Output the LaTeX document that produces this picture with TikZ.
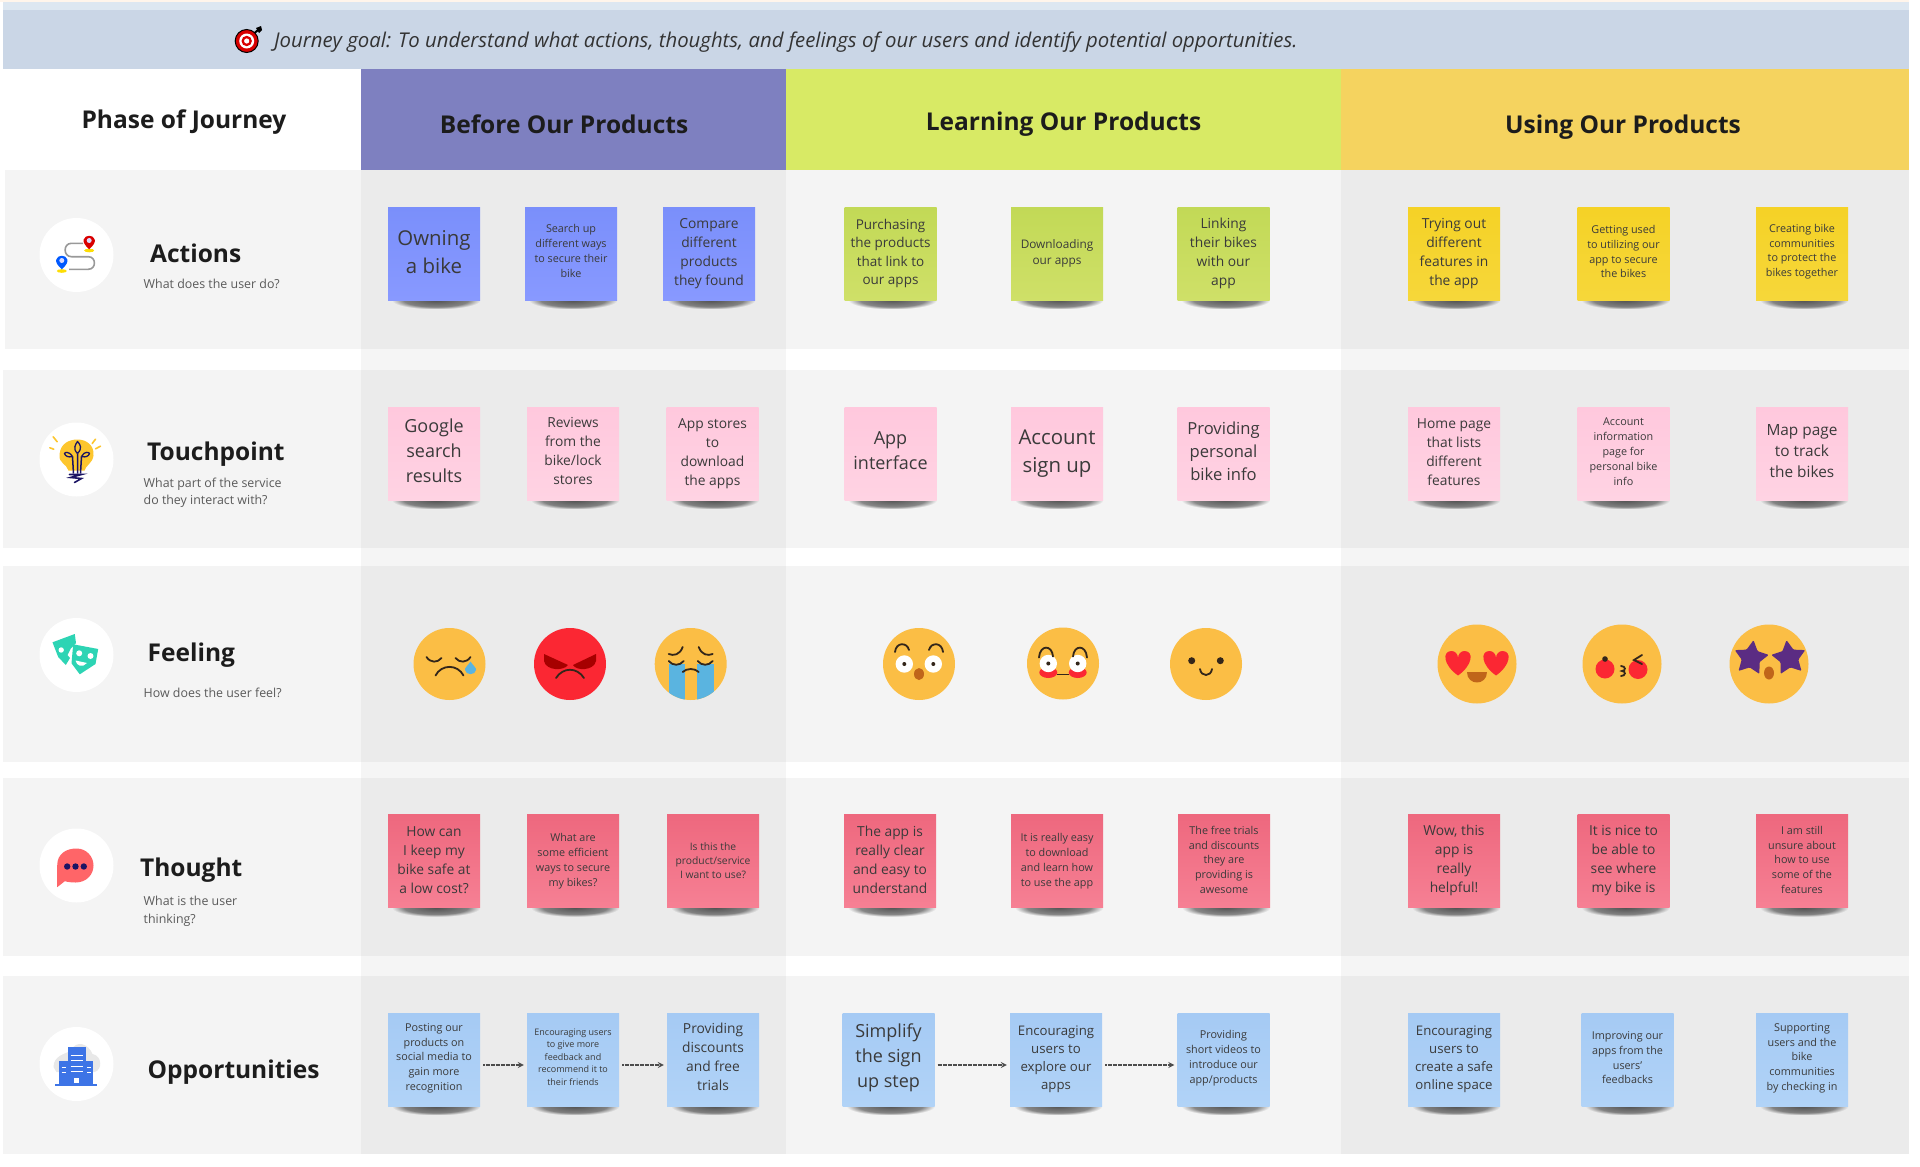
\documentclass[tikz,border=0pt]{standalone}
\usepackage{fontspec}
\setmainfont{Open Sans}
\usetikzlibrary{shapes.geometric, fadings}

\definecolor{goalband}{HTML}{CAD6E6}
\definecolor{goaltop}{HTML}{DDE7F1}
\definecolor{rowlight}{HTML}{F4F4F4}
\definecolor{rowdark}{HTML}{EBEBEB}
\definecolor{gapgray}{HTML}{F5F5F5}
\definecolor{headbefore}{HTML}{7E80C0}
\definecolor{headlearn}{HTML}{D8EA65}
\definecolor{headuse}{HTML}{F5D35F}
\definecolor{inktext}{HTML}{1C1C1C}
\definecolor{subtext}{HTML}{5A5A5A}
\definecolor{notetext}{HTML}{3A3A3A}
\definecolor{facey}{HTML}{FBBE45}
\definecolor{facered}{HTML}{FB2733}
\definecolor{facedark}{HTML}{33261A}
\definecolor{navy}{HTML}{1B1464}
\definecolor{tearblue}{HTML}{5AB4E0}
\definecolor{mouthbrown}{HTML}{C0651A}
\definecolor{starpurple}{HTML}{5B2C83}
\definecolor{maskteal}{HTML}{2DD4B4}
\definecolor{towerblue}{HTML}{3D74E6}
\definecolor{bulbyellow}{HTML}{FDC62E}
\definecolor{chatred}{HTML}{FF6568}

\pgfdeclareradialshading{noteblurshade}{\pgfpointorigin}{color(0bp)=(pgftransparent!35); color(18bp)=(pgftransparent!55); color(25bp)=(pgftransparent!100); color(50bp)=(pgftransparent!100)}
\pgfdeclarefading{noteblur}{\pgfuseshading{noteblurshade}}

\tikzstyle{plate} = [circle, fill=white, minimum size=74pt, inner sep=0pt]
\tikzstyle{head} = [font=\fontsize{24.5}{30}\selectfont\bfseries, text=inktext]
\tikzstyle{rowname} = [anchor=west, inner sep=0pt, font=\fontsize{24.5}{30}\selectfont\bfseries, text=inktext]
\tikzstyle{rowsub} = [anchor=west, inner sep=0pt, align=left, font=\fontsize{12.4}{17}\selectfont, text=subtext]
\tikzstyle{noteshade} = [black, path fading=noteblur]
\tikzstyle{note} = [inner sep=0pt, minimum width=92pt, minimum height=93pt, align=center, text=notetext,
  append after command={\pgfextra{\begin{scope}
    \clip ([xshift=-6pt]\tikzlastnode.south west) rectangle ([xshift=6pt,yshift=-14pt]\tikzlastnode.south east);
    \fill [noteshade] ([xshift=-42pt,yshift=9pt]\tikzlastnode.south) rectangle ([xshift=46pt,yshift=-9pt]\tikzlastnode.south);
    \end{scope}}}]
\tikzstyle{actbefore} = [note, top color={rgb,255:red,122;green,143;blue,251}, bottom color={rgb,255:red,136;green,153;blue,255}]
\tikzstyle{actlearn} = [note, top color={rgb,255:red,194;green,217;blue,86}, bottom color={rgb,255:red,207;green,224;blue,104}]
\tikzstyle{actuse} = [note, top color={rgb,255:red,245;green,210;blue,38}, bottom color={rgb,255:red,246;green,215;blue,58}]
\tikzstyle{touch} = [note, top color={rgb,255:red,255;green,200;blue,221}, bottom color={rgb,255:red,255;green,211;blue,227}]
\tikzstyle{thought} = [note, top color={rgb,255:red,238;green,104;blue,126}, bottom color={rgb,255:red,246;green,128;blue,148}]
\tikzstyle{opp} = [note, top color={rgb,255:red,165;green,202;blue,244}, bottom color={rgb,255:red,177;green,211;blue,247}]
\tikzstyle{fsa} = [font=\fontsize{9}{12.4}\selectfont]
\tikzstyle{fsb} = [font=\fontsize{10.8}{14.8}\selectfont]
\tikzstyle{fsc} = [font=\fontsize{11.8}{16}\selectfont]
\tikzstyle{fsd} = [font=\fontsize{13.8}{19}\selectfont]
\tikzstyle{fse} = [font=\fontsize{16.6}{23}\selectfont]
\tikzstyle{fsf} = [font=\fontsize{18}{25}\selectfont]
\tikzstyle{fsg} = [font=\fontsize{20.4}{28}\selectfont]
\tikzstyle{face} = [circle, fill=facey, minimum size=72pt, inner sep=0pt]
\tikzstyle{bigface} = [circle, fill=facey, minimum size=79pt, inner sep=0pt]
\tikzstyle{brow} = [draw=facedark, line width=1.8pt, line cap=round]
\tikzstyle{starry} = [star, star points=5, star point ratio=1.9, fill=starpurple, minimum size=36pt, inner sep=0pt, rounded corners=1pt]
\tikzstyle{flow} = [line width=1.6pt, draw=black!70, dash pattern=on 2pt off .5pt, ->, >=stealth, shorten <=3pt, shorten >=3pt]

\begin{document}
\begin{tikzpicture}[x=1pt, y=-1pt]
\useasboundingbox (0,0) rectangle (1920,1167);

% goal band
\fill [white] (0,0) rectangle (1920,1167);
\fill [orange!8] (0,0) rectangle (1909,2);
\fill [goaltop] (2.5,2) rectangle (1909,10);
\fill [goalband] (2.5,10) rectangle (1909,69);
\node (goaltext) [anchor=west, inner sep=0pt, font=\fontsize{20.35}{24}\selectfont\itshape, text=black!80] at (274,42) {Journey goal: To understand what actions, thoughts, and feelings of our users and identify potential opportunities.};

% target icon
\draw [black, line width=2pt] (249,38) -- (258,30);
\fill [black] (256,28) -- (261,26) -- (262,30) -- (259,33) -- cycle;
\node (target) [circle, fill=red!85!black, draw=black, line width=1pt, minimum size=23pt, inner sep=0pt] at (246.7,41) {};
\fill [white] (target.center) circle (7.5pt);
\fill [red!85!black] (target.center) circle (5.2pt);
\fill [white] (target.center) circle (2.6pt);

% header
\fill [headbefore] (361,69) rectangle (786,170);
\fill [headlearn] (786,69) rectangle (1341,170);
\fill [headuse] (1341,69) rectangle (1909,170);
\node (phase) [head] at (184,122.5) {Phase of Journey};
\node (before) [head] at (564,124) {Before Our Products};
\node (learn) [head] at (1063.5,124.5) {Learning Our Products};
\node (using) [head] at (1623,127.5) {Using Our Products};

% rows
\fill [gapgray] (361,170) rectangle (786,1153);
\fill [gapgray] (1341,170) rectangle (1909,1153);
\fill [rowlight] (5,170) rectangle (1909,348.5);
\fill [rowlight] (3,370) rectangle (1909,548);
\fill [rowlight] (3,566) rectangle (1909,762);
\fill [rowlight] (3,777.5) rectangle (1909,955.5);
\fill [rowlight] (3,976) rectangle (1909,1153.5);
\fill [rowdark] (361,170) rectangle (786,348.5);
\fill [rowdark] (361,370) rectangle (786,548);
\fill [rowdark] (361,566) rectangle (786,762);
\fill [rowdark] (361,777.5) rectangle (786,955.5);
\fill [rowdark] (361,976) rectangle (786,1153.5);
\fill [rowdark] (1341,170) rectangle (1909,348.5);
\fill [rowdark] (1341,370) rectangle (1909,548);
\fill [rowdark] (1341,566) rectangle (1909,762);
\fill [rowdark] (1341,777.5) rectangle (1909,955.5);
\fill [rowdark] (1341,976) rectangle (1909,1153.5);

% row titles
\node (actplate) [plate] at (76.5,255) {};
\node (touchplate) [plate] at (76.5,459.5) {};
\node (feelplate) [plate] at (76.5,655) {};
\node (thoughtplate) [plate] at (76.5,865.5) {};
\node (oppplate) [plate] at (76.5,1064) {};
\node (actname) [rowname] at (150,253) {Actions};
\node (actsub) [rowsub] at (143.5,283.5) {What does the user do?};
\node (touchname) [rowname] at (147,454.5) {Touchpoint};
\node (touchsub) [rowsub] at (143.5,493) {What part of the service\\do they interact with?};
\node (feelname) [rowname] at (147.5,655) {Feeling};
\node (feelsub) [rowsub] at (143.5,692.5) {How does the user feel?};
\node (thoughtname) [rowname] at (140,870.5) {Thought};
\node (thoughtsub) [rowsub, font=\fontsize{12.4}{17.6}\selectfont] at (143.5,911.5) {What is the user\\thinking?};
\node (oppname) [rowname] at (147.5,1072.5) {Opportunities};

% route icon
\begin{scope}[shift={(actplate.center)}]
\draw [black!40, line width=1.6pt] (6.7,-11.7) -- (-5,-11.7) .. controls (-13.5,-11.7) and (-13.5,1.7) .. (-5,1.7) -- (11.7,1.7) .. controls (20,1.7) and (20,14.3) .. (11.7,14.3) -- (-7.3,14.3);
\fill [yellow!80!orange] (12.7,-4.5) ellipse (5pt and 1.8pt);
\fill [red!85!black] (12.7,-5.7) .. controls (8,-10) and (6.5,-13) .. (7.2,-15.5) .. controls (8.5,-20.5) and (17,-20.5) .. (18.2,-15.5) .. controls (19,-13) and (17.4,-10) .. (12.7,-5.7) -- cycle;
\fill [blue!15] (12.7,-14.5) circle (2.5pt);
\fill [yellow!80!orange] (-14.7,16) ellipse (5pt and 1.8pt);
\fill [blue!65!cyan] (-14.7,14.3) .. controls (-19.4,10) and (-21,7) .. (-20.2,4.5) .. controls (-19,-0.5) and (-10.4,-0.5) .. (-9.2,4.5) .. controls (-8.4,7) and (-10,10) .. (-14.7,14.3) -- cycle;
\fill [blue!15] (-14.7,5.5) circle (2.5pt);
\end{scope}

% bulb icon
\begin{scope}[shift={(touchplate.center)}]
\fill [bulbyellow] (-8,11) .. controls (-10,4) and (-18,4) .. (-17,-5) .. controls (-16,-17) and (-6,-20) .. (1,-20) .. controls (10,-20) and (18,-14) .. (17,-4) .. controls (16,4) and (9,6) .. (8,11) -- cycle;
\draw [bulbyellow, line width=1.6pt, line cap=round] (-23.3,-22.7) -- (-19.3,-17.7);
\draw [bulbyellow, line width=1.6pt, line cap=round] (-26.7,-11.7) -- (-22.7,-10.3);
\draw [bulbyellow, line width=1.6pt, line cap=round] (19,-20.3) -- (15.7,-16);
\draw [bulbyellow, line width=1.6pt, line cap=round] (24,-13.3) -- (19,-10.7);
\draw [navy, line width=1.3pt, line join=round] (1,-6) .. controls (-4,-11) and (-1,-15) .. (1,-18) .. controls (4,-15) and (6,-11) .. (1,-6);
\draw [navy, line width=1.3pt, line join=round] (-4,-3) .. controls (-8,-9) and (-12,-7) .. (-12,-6) .. controls (-11,-3) and (-8,-2) .. (-4,-3);
\draw [navy, line width=1.3pt, line join=round] (5,-3) .. controls (8,-9) and (13,-7) .. (13,-6) .. controls (12,-3) and (9,-2) .. (5,-3);
\draw [navy, line width=1.5pt] (-3,14) -- (-4,-3) (1,14) -- (1,-6) (4,14) -- (5,-3);
\draw [navy, line width=1.6pt, line cap=round] (-7,15) -- (5,15) -- (-6,18) -- (5,19) -- (-2,23);
\end{scope}

% masks icon
\begin{scope}[shift={(feelplate.center)}]
\fill [maskteal] (-24,-12.7) -- (-1.7,-21) -- (-0.5,-12) -- (-6,-6) -- (-9,0) -- (-6.5,3) -- (-10.7,10) -- (-18.3,2) -- cycle;
\fill [white] (-15.3,-5) circle (2.7pt);
\fill [maskteal] (-3.3,-10.7) -- (21.7,-6) -- (19,9) -- (3.3,19.3) -- (-5,8.3) -- cycle;
\fill [white] (2.7,-1.7) circle (3pt);
\fill [white] (14,1) circle (3pt);
\fill [white] (-1,5.5) .. controls (0,11) and (6,13) .. (10.5,8) -- cycle;
\end{scope}

% chat icon
\begin{scope}[shift={(thoughtplate.center)}]
\fill [chatred] (-19.3,0) .. controls (-19.3,-12) and (-10,-17) .. (0,-17) .. controls (10,-17) and (17,-9) .. (17,0) .. controls (17,9) and (10,17) .. (-1,17) .. controls (-5,17) and (-9,16.5) .. (-11.7,15.7) -- (-19.3,21.7) -- cycle;
\fill [navy] (-9.3,1) circle (3.2pt);
\fill [navy] (-1,1) circle (3.2pt);
\fill [navy] (7.3,1) circle (3.2pt);
\end{scope}

% building icon
\begin{scope}[shift={(oppplate.center)}]
\fill [black!9] (-23,3) .. controls (-23,-8) and (-12,-10) .. (-6,-13) .. controls (0,-25) and (12,-20) .. (16,-10) .. controls (26,-8) and (26,6) .. (18,8) -- (-20,8) -- cycle;
\fill [towerblue] (-9,-16.7) rectangle (9.3,20.7);
\fill [towerblue] (-17.7,-2.7) rectangle (16,20.7);
\fill [towerblue] (-21.7,19.7) rectangle (20,22);
\draw [white, line width=.9pt] (-6,-8.7) -- (6.7,-8.7) (-6,-3.7) -- (6.7,-3.7) (-6,2.3) -- (6.7,2.3) (-6,7.3) -- (6.7,7.3);
\draw [white, line width=.9pt] (-15,3) -- (-10.5,3) (-15,8) -- (-10.5,8) (10.5,3) -- (14,3) (10.5,8) -- (14,8);
\fill [white] (-2.4,14) rectangle (2.4,18.7);
\end{scope}

% actions
\node (act1) [actbefore, fsg, text depth=3.7pt] at (434,253.5) {Owning\\a bike};
\node (act2) [actbefore, fsb, text depth=5pt] at (571,253.5) {Search up\\different ways\\to secure their\\bike};
\node (act3) [actbefore, fsd] at (709,253.5) {Compare\\different\\products\\they found};
\node (act4) [actlearn, font=\fontsize{13.5}{18.4}\selectfont] at (890.5,253.5) {Purchasing\\the products\\that link to\\our apps};
\node (act5) [actlearn, fsc] at (1057,253.5) {Downloading\\our apps};
\node (act6) [actlearn, fsd] at (1223.5,253.5) {Linking\\their bikes\\with our\\app};
\node (act7) [actuse, fsd] at (1454,253.5) {Trying out\\different\\features in\\the app};
\node (act8) [actuse, fsb, text depth=3.7pt] at (1623.5,253.5) {Getting used\\to utilizing our\\app to secure\\the bikes};
\node (act9) [actuse, fsb, text depth=6.3pt] at (1802,253.5) {Creating bike\\communities\\to protect the\\bikes together};

% touchpoints
\node (touch1) [touch, fsf, text depth=6pt] at (434,453.5) {Google\\search\\results};
\node (touch2) [touch, fsd, text depth=5pt] at (573,453.5) {Reviews\\from the\\bike/lock\\stores};
\node (touch3) [touch, fsd] at (712.5,453.5) {App stores\\to\\download\\the apps};
\node (touch4) [touch, fsf, text depth=5pt] at (890.5,453.5) {App\\interface};
\node (touch5) [touch, fsg] at (1057,453.5) {Account\\sign up};
\node (touch6) [touch, fse, text depth=5pt] at (1223.5,453.5) {Providing\\personal\\bike info};
\node (touch7) [touch, fsd, text depth=3.7pt] at (1454,453.5) {Home page\\that lists\\different\\features};
\node (touch8) [touch, fsb, text depth=3.7pt] at (1623.5,453.5) {Account\\information\\page for\\personal bike\\info};
\node (touch9) [touch, font=\fontsize{15.4}{21}\selectfont, text depth=6pt] at (1802,453.5) {Map page\\to track\\the bikes};

% feelings
\node (sad) [face] at (449.5,664) {};
\begin{scope}[shift={(sad.center)}]
\draw [brow] (-23,-7) .. controls (-19,-1) and (-12,-1) .. (-8,-6);
\draw [brow] (6,-6) .. controls (10,-1) and (17,-1) .. (21,-7);
\draw [brow] (-14,11.5) .. controls (-8,0) and (8,0) .. (14,11.5);
\fill [tearblue] (21,-2.5) .. controls (24,2) and (27,4) .. (26.5,6) .. controls (26,11.5) and (16,11.5) .. (15.5,6) .. controls (15,4) and (18,2) .. (21,-2.5);
\end{scope}
\node (angry) [face, fill=facered] at (570,664) {};
\begin{scope}[shift={(angry.center)}]
\fill [red!65!black] (-26,-10) -- (-2,1) .. controls (-6,7) and (-24,7) .. (-26,-3) -- cycle;
\fill [red!65!black] (26,-10) -- (3,1) .. controls (6,7) and (24,7) .. (26,-3) -- cycle;
\draw [brow] (-14,14) .. controls (-7,3) and (7,3) .. (14,14);
\end{scope}
\node (cry) [face] at (690.7,664) {};
\begin{scope}[shift={(cry.center)}]
\begin{scope}
\clip (0,0) circle (36pt);
\fill [tearblue] (-22,0) rectangle (-6,36);
\fill [tearblue] (6,0) rectangle (23,36);
\end{scope}
\draw [brow] (-22,-10) .. controls (-17,-8) and (-11,-9) .. (-8,-17);
\draw [brow] (22,-10) .. controls (17,-8) and (11,-9) .. (8,-17);
\draw [brow] (-22,-3) .. controls (-18,2) and (-11,2) .. (-7,-3);
\draw [brow] (22,-3) .. controls (18,2) and (11,2) .. (7,-3);
\draw [brow] (-8,8) .. controls (-4,4) and (4,4) .. (8,8);
\end{scope}
\node (oops) [face] at (919,664) {};
\begin{scope}[shift={(oops.center)}]
\draw [brow] (-24,-12) .. controls (-23,-22) and (-12,-22) .. (-10,-14);
\draw [brow] (24,-12) .. controls (23,-22) and (12,-22) .. (10,-14);
\fill [white] (-14.7,0) circle (8.7pt);
\fill [white] (14.3,0) circle (8.7pt);
\fill [facedark] (-14.7,0) circle (2pt);
\fill [facedark] (14.3,0) circle (2pt);
\fill [mouthbrown] (0,10) ellipse (5pt and 6pt);
\end{scope}
\node (shy) [face] at (1063,663.5) {};
\begin{scope}[shift={(shy.center)}]
\fill [facered] (-14.7,9) ellipse (9pt and 5.5pt);
\fill [facered] (14.7,9) ellipse (9pt and 5.5pt);
\fill [white] (-14.7,0) circle (8.7pt);
\fill [white] (14.7,0) circle (8.7pt);
\fill [facedark] (-14.7,0) circle (2pt);
\fill [facedark] (14.7,0) circle (2pt);
\draw [brow] (-24,-6) .. controls (-23,-19) and (-11,-19) .. (-10,-7);
\draw [brow] (24,-6) .. controls (23,-19) and (11,-19) .. (10,-7);
\draw [facedark, line width=1.8pt] (-6,11) -- (6,11);
\end{scope}
\node (calm) [face] at (1206,664) {};
\begin{scope}[shift={(calm.center)}]
\fill [facedark] (-14.3,-3.3) circle (3.5pt);
\fill [facedark] (14.3,-3.3) circle (3.5pt);
\draw [brow] (-6,5) .. controls (-5,13) and (5,13) .. (6,5);
\end{scope}
\node (love) [bigface] at (1477,664) {};
\begin{scope}[shift={(love.center)}]
\fill [facered] (-19,11.5) .. controls (-34,1) and (-35,-13) .. (-25.5,-13) .. controls (-22,-13) and (-19,-10) .. (-19,-6) .. controls (-19,-10) and (-16,-13) .. (-12.5,-13) .. controls (-3,-13) and (-4,1) .. (-19,11.5) -- cycle;
\fill [facered] (19,11.5) .. controls (4,1) and (3,-13) .. (12.5,-13) .. controls (16,-13) and (19,-10) .. (19,-6) .. controls (19,-10) and (22,-13) .. (25.5,-13) .. controls (35,-13) and (34,1) .. (19,11.5) -- cycle;
\fill [mouthbrown] (-10,8) -- (10,8) .. controls (10,22) and (-10,22) .. (-10,8) -- cycle;
\end{scope}
\node (kiss) [bigface] at (1622,664) {};
\begin{scope}[shift={(kiss.center)}]
\fill [facered] (-17,5) circle (9.5pt);
\fill [facered] (16,5.5) circle (9.5pt);
\fill [facedark] (-17,-5) circle (2.8pt);
\draw [brow] (20,-9) -- (12,-4) -- (20,0);
\draw [brow] (-1,2) .. controls (4,2) and (4,7) .. (0,7) .. controls (4,7) and (4,12) .. (-1,12);
\end{scope}
\node (stars) [bigface] at (1769,664) {};
\begin{scope}[shift={(stars.center)}]
\node (starl) [starry, shape border rotate=-8] at (-18,-6) {};
\node (starr) [starry, shape border rotate=8] at (20,-6) {};
\fill [mouthbrown] (0,9) ellipse (5pt and 6.5pt);
\end{scope}

% thoughts
\node (think1) [thought, fsd, text depth=2.5pt] at (434,861) {How can\\I keep my\\bike safe at\\a low cost?};
\node (think2) [thought, fsb] at (573,861) {What are\\some efficient\\ways to secure\\my bikes?};
\node (think3) [thought, font=\fontsize{10.3}{14}\selectfont] at (713,861) {Is this the\\product/service\\I want to use?};
\node (think4) [thought, fsd, text depth=2.5pt] at (890,861) {The app is\\really clear\\and easy to\\understand};
\node (think5) [thought, fsb] at (1057,861) {It is really easy\\to download\\and learn how\\to use the app};
\node (think6) [thought, fsb, text depth=2.5pt] at (1224,861) {The free trials\\and discounts\\they are\\providing is\\awesome};
\node (think7) [thought, fsd, text depth=4.5pt] at (1454,861) {Wow, this\\app is\\really\\helpful!};
\node (think8) [thought, fsd] at (1623.5,861) {It is nice to\\be able to\\see where\\my bike is};
\node (think9) [thought, fsb, text depth=2.5pt] at (1802,861) {I am still\\unsure about\\how to use\\some of the\\features};

% opportunities
\node (opp1) [opp, fsb, text depth=5pt] at (434,1059.5) {Posting our\\products on\\social media to\\gain more\\recognition};
\node (opp2) [opp, fsa, text depth=5pt] at (573,1059.5) {Encouraging users\\to give more\\feedback and\\recommend it to\\their friends};
\node (opp3) [opp, fsd, text depth=6pt] at (713,1059.5) {Providing\\discounts\\and free\\trials};
\node (opp4) [opp, fsf, text depth=6.8pt] at (888.5,1059.5) {Simplify\\the sign\\up step};
\node (opp5) [opp, font=\fontsize{13.2}{18}\selectfont] at (1056,1059.5) {Encouraging\\users to\\explore our\\apps};
\node (opp6) [opp, fsb, text depth=5pt] at (1223.5,1059.5) {Providing\\short videos to\\introduce our\\app/products};
\node (opp7) [opp, font=\fontsize{13.2}{18}\selectfont] at (1454,1059.5) {Encouraging\\users to\\create a safe\\online space};
\node (opp8) [opp, fsb, text depth=3.7pt] at (1627.5,1059.5) {Improving our\\apps from the\\users'\\feedbacks};
\node (opp9) [opp, fsb, text depth=5pt] at (1802,1059.5) {Supporting\\users and the\\bike\\communities\\by checking in};

\draw [flow] ([yshift=-5.5pt]opp1.east) -- ([yshift=-5.5pt]opp2.west);
\draw [flow] ([yshift=-5.5pt]opp2.east) -- ([yshift=-5.5pt]opp3.west);
\draw [flow] ([yshift=-5.5pt]opp4.east) -- ([yshift=-5.5pt]opp5.west);
\draw [flow] ([yshift=-5.5pt]opp5.east) -- ([yshift=-5.5pt]opp6.west);

\end{tikzpicture}
\end{document}
